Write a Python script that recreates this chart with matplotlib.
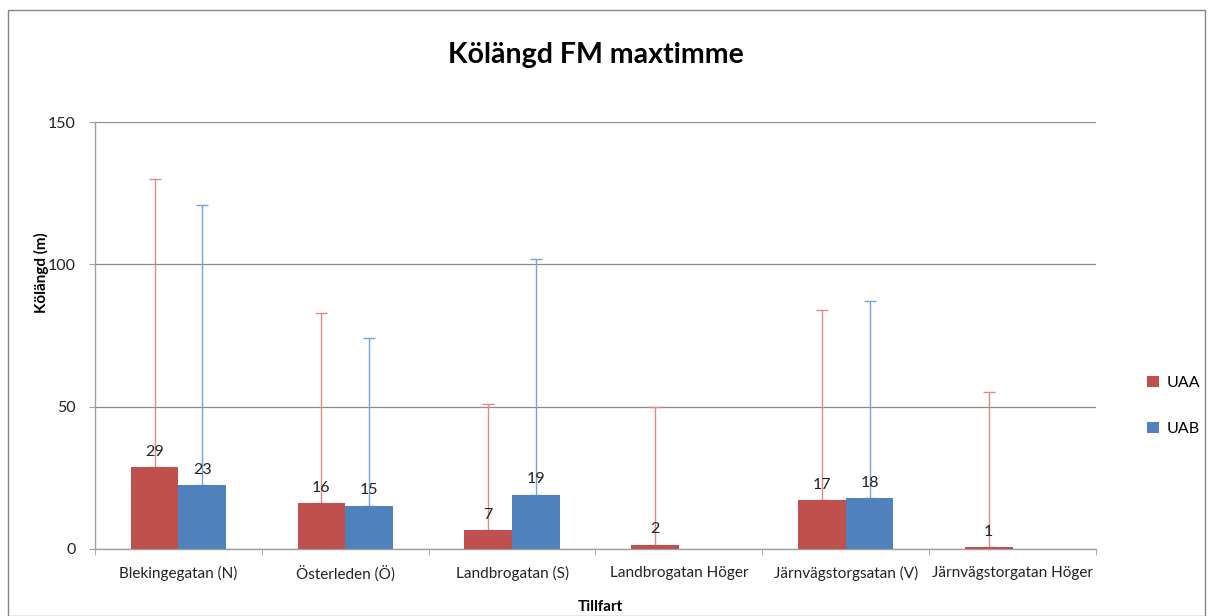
import matplotlib
matplotlib.use("Agg")
import matplotlib.pyplot as plt
import numpy as np
from matplotlib.patches import Rectangle

plt.rcParams['font.family'] = ['Lato', 'DejaVu Sans']

categories = ["Blekingegatan (N)", "Österleden (Ö)", "Landbrogatan (S)",
              "Landbrogatan Höger", "Järnvägstorgsatan (V)", "Järnvägstorgatan Höger"]
uaa = [28.8, 16.2, 6.6, 1.5, 17.2, 0.6]
uab = [22.5, 15.2, 19.1, 0.0, 17.8, 0.0]
uaa_max = [130, 83, 51, 50, 84, 55]
uab_max = [121, 74, 102, None, 87, None]
uaa_labels = ["29", "16", "7", "2", "17", "1"]
uab_labels = ["23", "15", "19", None, "18", None]

red = "#C0504D"
blue = "#4F81BD"

fig = plt.figure(figsize=(12.08, 6.16), dpi=100)
fig.patches.append(Rectangle((8/1208, 0), 1 - 11/1208, 1 - 10/616, transform=fig.transFigure,
                             fill=False, edgecolor="#868686", linewidth=1.0))
ax = fig.add_axes([95/1208, 1 - 549/616, (1096 - 95)/1208, (549 - 122)/616])

x = np.arange(len(categories))
w = 1 / 3.5
ax.bar(x - w/2, uaa, width=w, color=red, zorder=3, label="UAA")
ax.bar(x + w/2, uab, width=w, color=blue, zorder=3, label="UAB")

for i in range(len(categories)):
    if uaa_max[i] is not None:
        ax.errorbar(x[i] - w/2, uaa[i], yerr=[[0], [uaa_max[i] - uaa[i]]], fmt='none',
                    ecolor="#E08A88", elinewidth=1.0, capsize=4, capthick=1.0, zorder=2)
    if uab_max[i] is not None:
        ax.errorbar(x[i] + w/2, uab[i], yerr=[[0], [uab_max[i] - uab[i]]], fmt='none',
                    ecolor="#6FA6DC", elinewidth=1.0, capsize=4, capthick=1.0, zorder=2)
    if uaa_labels[i]:
        ax.annotate(uaa_labels[i], (x[i] - w/2, uaa[i]), xytext=(0, 6), textcoords='offset points',
                    ha='center', va='bottom', fontsize=11.5, color="#222222", zorder=5)
    if uab_labels[i]:
        ax.annotate(uab_labels[i], (x[i] + w/2, uab[i]), xytext=(0, 6), textcoords='offset points',
                    ha='center', va='bottom', fontsize=11.5, color="#222222", zorder=5)

ax.set_xlim(-0.5, len(categories) - 0.5)
ax.set_ylim(0, 150)
ax.set_yticks([0, 50, 100, 150])
ax.grid(axis='y', color="#8C8C8C", linewidth=0.9, zorder=0)
ax.set_xticks(x)
ax.set_xticklabels(categories, fontsize=11, color="#222222")
ax.tick_params(axis='x', length=0, pad=12)
ax.set_xticks(np.arange(-0.5, len(categories)), minor=True)
ax.tick_params(axis='x', which='minor', length=4, color="#A0A0A0", direction='out')
ax.tick_params(axis='y', length=4, color="#A0A0A0", labelsize=11.5, pad=10, labelcolor="#222222")
for s in ['top', 'right']:
    ax.spines[s].set_visible(False)
ax.spines['left'].set_color("#A0A0A0")
ax.spines['bottom'].set_color("#A0A0A0")
ax.spines['left'].set_linewidth(1.0)
ax.spines['bottom'].set_linewidth(1.0)

fig.text(600/1208, 1 - 607/616, "Tillfart", ha='center', va='center',
         fontsize=11, fontweight='bold')
fig.text(41/1208, 1 - 273/616, "Kölängd (m)", ha='center', va='center', rotation=90,
         fontsize=11, fontweight='bold')
fig.text(596/1208, 1 - 55/616, "Kölängd FM maxtimme", ha='center', va='center',
         fontsize=20.5, fontweight='bold')

fig.legend(loc='center left', bbox_to_anchor=(1133/1208, 1 - 406/616), frameon=False,
           fontsize=11.5, handlelength=0.7, handleheight=0.7, labelspacing=2.0, handletextpad=0.5)

fig.savefig("out.png", dpi=100)
